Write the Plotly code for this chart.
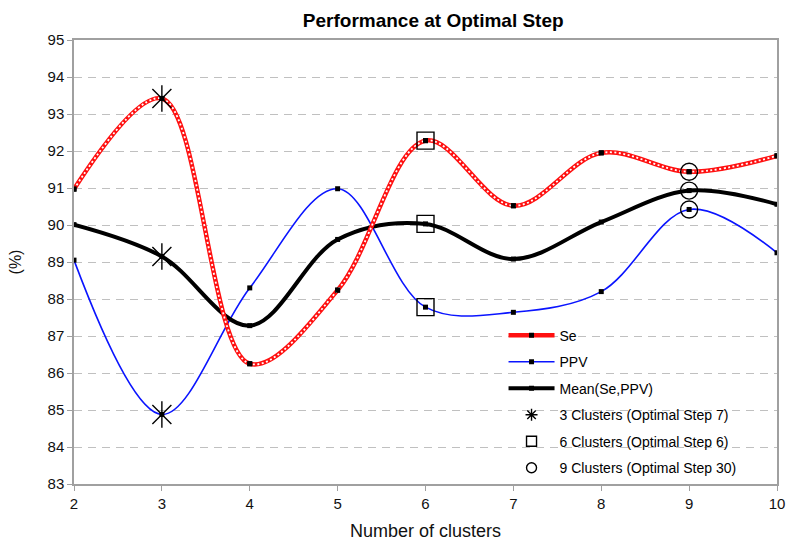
import plotly.graph_objects as go

# Performance per number of clusters (%)
clusters = [2, 3, 4, 5, 6, 7, 8, 9, 10]
se = [90.97, 93.42, 86.25, 88.24, 92.28, 90.52, 91.95, 91.44, 91.87]
ppv = [89.05, 84.88, 88.30, 90.98, 87.78, 87.64, 88.20, 90.42, 89.25]
mean_se_ppv = [90.01, 89.15, 87.28, 89.61, 90.03, 89.08, 90.08, 90.93, 90.56]

# Cluster counts chosen at their optimal step
optimal = [
    (3, "3 Clusters (Optimal Step 7)"),
    (6, "6 Clusters (Optimal Step 6)"),
    (9, "9 Clusters (Optimal Step 30)"),
]

FONT = "Liberation Sans, Arial, sans-serif"
fig = go.Figure()

# PPV: thin blue smoothed line
fig.add_trace(go.Scatter(
    x=clusters, y=ppv, name="PPV", mode="lines+markers", legendrank=2, legendgroup="ppv",
    line=dict(color="#0a14ff", width=1.6, shape="spline", smoothing=1.0),
    marker=dict(symbol="square", size=5, color="black"),
))
# Mean: thick black smoothed line
fig.add_trace(go.Scatter(
    x=clusters, y=mean_se_ppv, name="Mean(Se,PPV)", mode="lines+markers", legendrank=3,
    legendgroup="mean",
    line=dict(color="black", width=4, shape="spline", smoothing=1.0),
    marker=dict(symbol="square", size=5, color="black"),
))
# Se: red line with a dotted white core
fig.add_trace(go.Scatter(
    x=clusters, y=se, name="Se", mode="lines+markers", legendrank=1, legendgroup="se",
    line=dict(color="#ff1010", width=4.5, shape="spline", smoothing=1.0),
    marker=dict(symbol="square", size=5, color="black"),
))
fig.add_trace(go.Scatter(
    x=clusters, y=se, mode="lines", showlegend=False, hoverinfo="skip", legendgroup="se",
    line=dict(color="white", width=1.8, shape="spline", smoothing=1.0, dash="2px,2.5px"),
))
fig.add_trace(go.Scatter(
    x=clusters, y=se, mode="markers", showlegend=False, hoverinfo="skip", legendgroup="se",
    marker=dict(symbol="square", size=5, color="black"),
))

# Optimal-step markers on every series
symbols = {3: ["x-thin-open", "line-ns-open"], 6: ["square-open"], 9: ["circle-open"]}
legend_symbols = {3: "asterisk-open", 6: "square-open", 9: "circle-open"}
for rank, (k, label) in enumerate(optimal, start=4):
    i = clusters.index(k)
    ys = [se[i], ppv[i], mean_se_ppv[i]]
    for sym in symbols[k]:
        fig.add_trace(go.Scatter(
            x=[k] * 3, y=ys, mode="markers", showlegend=False, hoverinfo="skip",
            marker=dict(symbol=sym, size=19 if k == 3 else 17, color="black",
                        line=dict(color="black", width=1.4)),
        ))
    fig.add_trace(go.Scatter(
        x=[None], y=[None], mode="markers", name=label, legendrank=rank,
        legendgroup=f"opt{k}",
        marker=dict(symbol=legend_symbols[k], size=10, color="black",
                    line=dict(color="black", width=1.4)),
    ))

axis_common = dict(
    showline=True, linecolor="#a0a0a0", linewidth=1.5, mirror=True,
    ticks="outside", ticklen=5, tickcolor="#a0a0a0", tickwidth=1,
    tickfont=dict(family=FONT, size=15, color="#111"),
    zeroline=False, automargin=False,
)

fig.update_layout(
    width=788, height=542,
    margin=dict(l=74, r=11, t=40, b=58),
    paper_bgcolor="white", plot_bgcolor="white",
    font=dict(family=FONT, color="#111"),
    title=dict(text="<b>Performance at Optimal Step</b>", x=0.511, xref="paper",
               y=0.963, yanchor="middle", xanchor="center",
               font=dict(family=FONT, size=19, color="black")),
    xaxis=dict(range=[2, 10], tickmode="linear", dtick=1, showgrid=False,
               title=dict(text="Number of clusters", font=dict(family=FONT, size=18),
                          standoff=14),
               **axis_common),
    yaxis=dict(range=[83, 95], tickmode="linear", dtick=1, showgrid=True,
               gridcolor="#c0c0c0", gridwidth=1, griddash="8px,6px",
               title=dict(text="(%)", font=dict(family=FONT, size=16), standoff=22),
               **axis_common),
    legend=dict(x=0.611, y=0.37, xanchor="left", yanchor="top",
                font=dict(family=FONT, size=14, color="black"),
                bgcolor="rgba(255,255,255,0)", itemwidth=46, tracegroupgap=5.3,
                traceorder="grouped"),
    showlegend=True,
)

fig.write_html("out.html")
